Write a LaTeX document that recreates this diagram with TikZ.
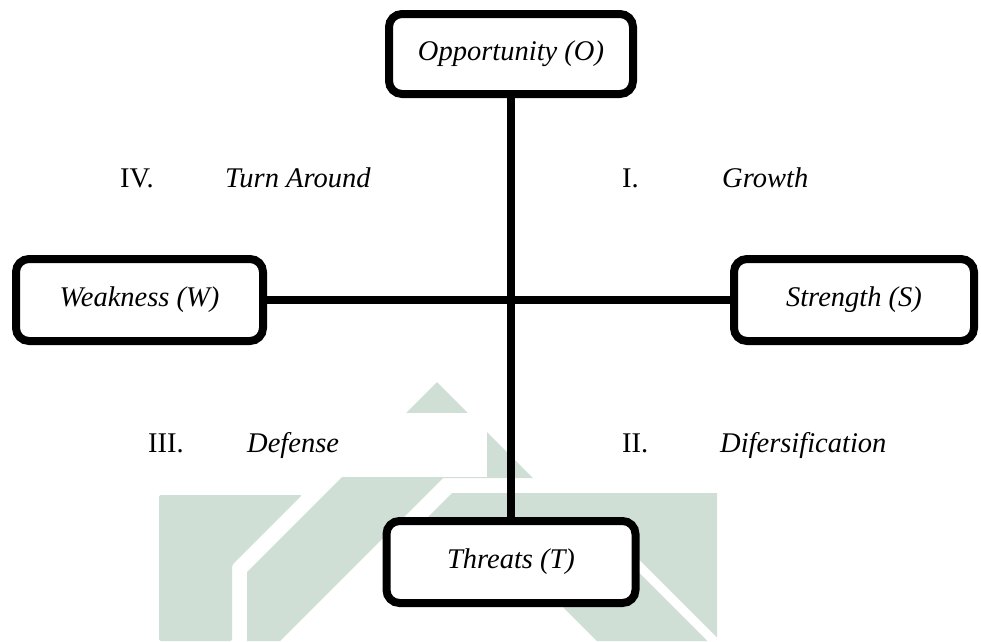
\documentclass[tikz,border=0pt]{standalone}
\usepackage{fontspec}
\setmainfont{Liberation Serif}
\definecolor{wm}{RGB}{207,223,214}
\begin{document}
\begin{tikzpicture}[x=1pt,y=-1pt,
  box/.style={draw=black, line width=8pt, rounded corners=13pt, fill=white, inner sep=0pt,
    font=\fontsize{28.5}{34}\selectfont\itshape},
  lbl/.style={anchor=base west, inner sep=0pt, font=\fontsize{28.5}{34}\selectfont},
  conn/.style={draw=black, line width=8pt}]
\useasboundingbox (0,0) rectangle (981,641);
% watermark
\fill[wm, rounded corners=2pt] (159,641) -- (159,495) -- (302,495) -- (232,565) -- (232,641) -- cycle;
\fill[wm] (437,382) -- (533,478) -- (443,478) -- (280,641) -- (247,641) -- (247,572) -- cycle;
\fill[white] (150,413) rectangle (487,477);
\fill[wm] (452,493) -- (717,493) -- (717,641) -- (597,641) -- (560,604) -- (410,535) -- cycle;
\draw[white, line width=9pt] (600,527) -- (725,652);
% boxes
\node[box, minimum width=244pt, minimum height=80pt] (O) at (511,54) {Opportunity (O)};
\node[box, minimum width=247pt, minimum height=82pt] (W) at (139.5,300) {Weakness (W)};
\node[box, minimum width=240pt, minimum height=82pt] (S) at (854,300) {Strength (S)};
\node[box, minimum width=249pt, minimum height=82pt] (T) at (511,562) {Threats (T)};
% connectors
\draw[conn] (O.south) -- (T.north);
\draw[conn] (W.east) -- (S.west);
% quadrant labels
\node[lbl] (n4) at (120,187) {IV.};
\node[lbl] (l4) at (225,187) {\itshape Turn Around};
\node[lbl] (n1) at (622,187) {I.};
\node[lbl] (l1) at (722,187) {\itshape Growth};
\node[lbl] (n3) at (148,452) {III.};
\node[lbl] (l3) at (247,452) {\itshape Defense};
\node[lbl] (n2) at (622,452) {II.};
\node[lbl] (l2) at (720,452) {\itshape Difersification};
\end{tikzpicture}
\end{document}
